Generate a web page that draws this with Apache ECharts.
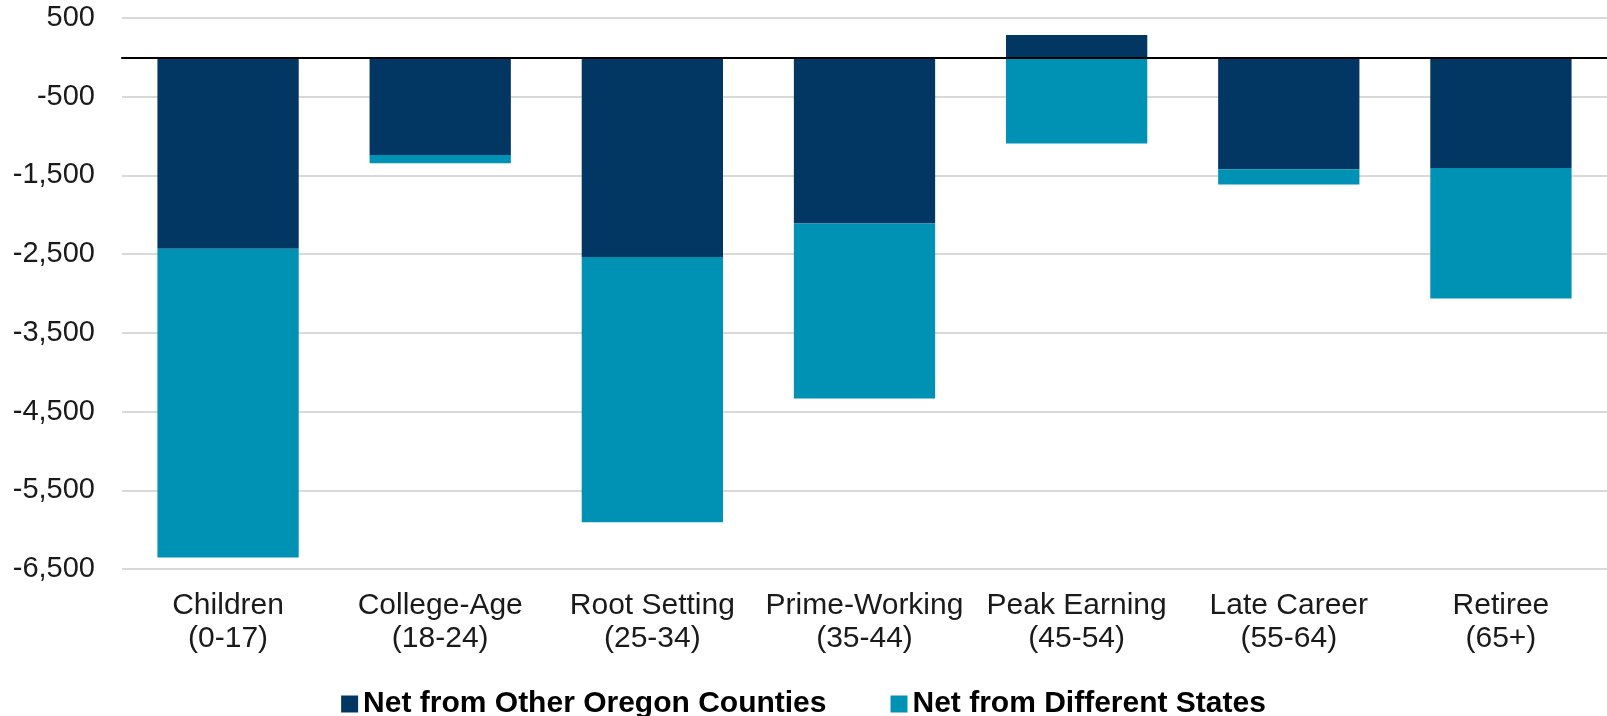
<!DOCTYPE html>
<html>
<head>
<meta charset="utf-8">
<script src="https://cdn.jsdelivr.net/npm/echarts@6/dist/echarts.min.js"></script>
<style>
  html, body { margin: 0; padding: 0; background: #fff; }
  #chart { width: 1607px; height: 716px; }
</style>
</head>
<body>
<div id="chart"></div>
<script>
const ageGroups = ['Children\n(0-17)', 'College-Age\n(18-24)', 'Root Setting\n(25-34)',
    'Prime-Working\n(35-44)', 'Peak Earning\n(45-54)', 'Late Career\n(55-64)', 'Retiree\n(65+)'];
const fromOtherCounties = [-2430, -1240, -2535, -2110, 285, -1420, -1405];
const fromOtherStates = [-3925, -105, -3370, -2225, -1095, -195, -1660];
const yMin = -6500;
const yMax = 500;
const yStep = 1000;

const font = "'Liberation Sans', Arial, sans-serif";
const chart = echarts.init(document.getElementById('chart'));

chart.setOption({
    animation: false,
    grid: { left: 122, top: 18, width: 1488, height: 551 },
    legend: {
        top: 684,
        left: 'center',
        itemWidth: 17,
        itemHeight: 17,
        itemGap: 64,
        icon: 'rect',
        textStyle: { fontFamily: font, fontSize: 30, fontWeight: 'bold', color: '#000' },
        data: ['Net from Other Oregon Counties', 'Net from Different States']
    },
    xAxis: {
        type: 'category',
        data: ageGroups,
        z: 5,
        axisLine: { onZero: true, lineStyle: { color: '#000', width: 2 } },
        axisTick: { show: false },
        axisLabel: {
            interval: 0,
            margin: 20,
            fontFamily: font,
            fontSize: 30,
            lineHeight: 33,
            color: '#1a1a1a'
        }
    },
    yAxis: {
        type: 'value',
        min: yMin,
        max: yMax,
        interval: yStep,
        axisLine: { show: false },
        axisTick: { show: false },
        splitLine: { lineStyle: { color: '#d9d9d9', width: 2 } },
        axisLabel: {
            margin: 27,
            fontFamily: font,
            fontSize: 29,
            color: '#1a1a1a',
            formatter: v => v.toLocaleString('en-US')
        }
    },
    series: [
        {
            name: 'Net from Other Oregon Counties',
            type: 'bar',
            stack: 'net',
            barWidth: '66.6%',
            itemStyle: { color: '#023764' },
            data: fromOtherCounties
        },
        {
            name: 'Net from Different States',
            type: 'bar',
            stack: 'net',
            barWidth: '66.6%',
            itemStyle: { color: '#0092b4' },
            data: fromOtherStates
        }
    ]
});
</script>
</body>
</html>
